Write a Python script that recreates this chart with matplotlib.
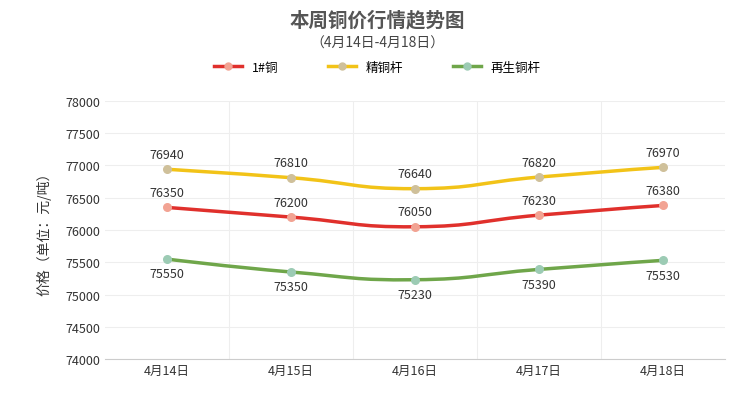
import matplotlib.pyplot as plt
from matplotlib.path import Path
from matplotlib.patches import PathPatch
from matplotlib.lines import Line2D

plt.rcParams['font.family'] = ['Noto Sans CJK SC', 'DejaVu Sans']

dates = ["4月14日", "4月15日", "4月16日", "4月17日", "4月18日"]
copper1 = [76350, 76200, 76050, 76230, 76380]
rod = [76940, 76810, 76640, 76820, 76970]
recycled = [75550, 75350, 75230, 75390, 75530]

series = [
    ("1#铜", copper1, "#e0302c", "#f2a393", 6),
    ("精铜杆", rod, "#f2c318", "#cfc09a", 6),
    ("再生铜杆", recycled, "#6fa64a", "#9ccbb4", -6),
]


def smooth_path(xs, ys, k=0.5):
    verts = [(xs[0], ys[0])]
    codes = [Path.MOVETO]
    n = len(xs)
    for i in range(n - 1):
        p0 = max(i - 1, 0)
        p3 = min(i + 2, n - 1)
        c1 = (xs[i] + (xs[i + 1] - xs[p0]) * k / 2 * (1 if p0 != i else 0),
              ys[i] + (ys[i + 1] - ys[p0]) * k / 2 * (1 if p0 != i else 0))
        c2 = (xs[i + 1] - (xs[p3] - xs[i]) * k / 2 * (1 if p3 != i + 1 else 0),
              ys[i + 1] - (ys[p3] - ys[i]) * k / 2 * (1 if p3 != i + 1 else 0))
        verts += [c1, c2, (xs[i + 1], ys[i + 1])]
        codes += [Path.CURVE4] * 3
    return Path(verts, codes)


fig = plt.figure(figsize=(7.55, 4.14), dpi=100)
ax = fig.add_axes([0.139, 0.130, 0.821, 0.624])
x = list(range(len(dates)))

for name, vals, color, mcolor, off in series:
    ax.add_patch(PathPatch(smooth_path(x, vals), fill=False, edgecolor=color, lw=2.5, zorder=2))
    ax.scatter(x, vals, s=30, color=mcolor, zorder=3)
    for xi, v in zip(x, vals):
        ax.annotate(str(v), (xi, v), xytext=(0, off), textcoords="offset points",
                    ha="center", va="bottom" if off > 0 else "top", fontsize=9, color="#333333")

ax.set_xlim(-0.5, len(dates) - 0.5)
ax.set_ylim(74000, 78000)
ax.set_yticks(range(74000, 78001, 500))
ax.set_xticks(x, dates)
ax.set_xticks([i + 0.5 for i in x[:-1]], minor=True)
ax.tick_params(which="both", labelsize=9, colors="#333333", length=0)
ax.grid(True, which="major", axis="y", color="#eeeeee", lw=0.8)
ax.grid(True, which="minor", axis="x", color="#eeeeee", lw=0.8)
for s in ["top", "right", "left"]:
    ax.spines[s].set_visible(False)
ax.spines["bottom"].set_color("#cccccc")
ax.set_ylabel("价格（单位：元/吨）", fontsize=10, color="#333333", labelpad=10)

fig.text(0.5, 0.935, "本周铜价行情趋势图", ha="center", fontsize=14, fontweight="bold", color="#555555")
fig.text(0.5, 0.885, "（4月14日-4月18日）", ha="center", fontsize=10, color="#444444")

handles = [Line2D([0], [0], color=c, lw=2.5, marker="o", markersize=5, markerfacecolor=m, markeredgecolor=m)
           for _, _, c, m, _ in series]
fig.legend(handles, [s[0] for s in series], loc="center", bbox_to_anchor=(0.5, 0.835), ncol=3,
           frameon=False, fontsize=9, handlelength=2.2, columnspacing=4)

fig.savefig("out.png")
